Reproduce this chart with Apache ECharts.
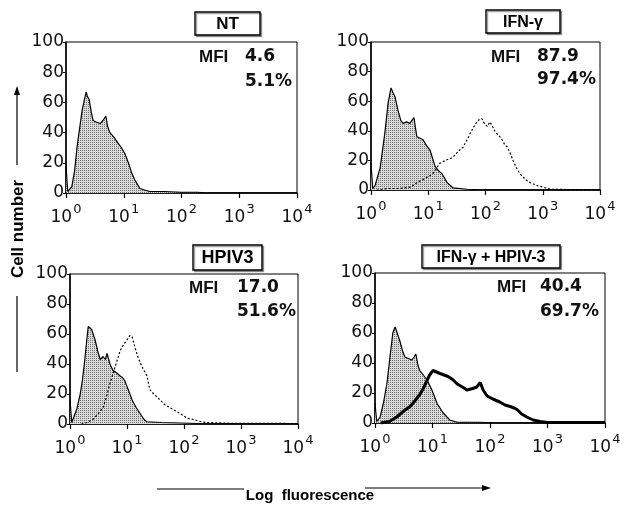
<!DOCTYPE html>
<html>
<head>
<meta charset="utf-8">
<script src="https://cdn.jsdelivr.net/npm/echarts@6/dist/echarts.min.js"></script>
<style>
  html, body { margin: 0; padding: 0; background: #fff; }
  #chart { width: 631px; height: 506px; }
</style>
</head>
<body>
<div id="chart"></div>
<script>
// x = log10(fluorescence), y = cell number
const decadeTicks = [0, 1, 2, 3, 4];
const countTicks = [0, 20, 40, 60, 80, 100];

const panelTitles = ['NT', 'IFN-\u03b3', 'HPIV3', 'IFN-\u03b3 + HPIV-3'];
const mfiValues = ['4.6', '87.9', '17.0', '40.4'];
const pctValues = ['5.1%', '97.4%', '51.6%', '69.7%'];

// shaded control histograms
const ntControl = [[0,18],[0.03,1],[0.1,4],[0.15,15],[0.19,30],[0.24,44],[0.28,55],[0.32,62],[0.35,67],[0.37,64],[0.4,62],[0.44,53],[0.47,48],[0.52,47],[0.59,46],[0.64,48],[0.69,51],[0.72,44],[0.76,40],[0.83,37],[0.9,33],[0.96,30],[1.02,26],[1.08,20],[1.14,13],[1.2,8],[1.28,3],[1.36,2],[1.45,1],[1.7,1],[2.0,0.5],[2.27,0.5],[2.5,0],[4,0]];
const ifnControl = [[0,18],[0.03,1],[0.07,3],[0.16,15],[0.24,38],[0.3,59],[0.35,69],[0.38,66],[0.42,63],[0.47,54],[0.52,47],[0.56,45],[0.62,46],[0.68,45],[0.75,49],[0.8,36],[0.86,35],[0.91,34],[0.97,30],[1.03,27],[1.12,16],[1.18,13],[1.24,11],[1.33,5],[1.43,1.5],[1.68,0.5],[2.0,0],[4,0]];
const hpivControl = [[0,16],[0.03,1],[0.05,2],[0.12,10],[0.18,20],[0.22,30],[0.26,43],[0.3,58],[0.32,65],[0.35,66],[0.38,63],[0.44,56],[0.49,48],[0.53,43],[0.58,45],[0.62,43],[0.65,47],[0.7,40],[0.75,36],[0.82,34],[0.88,32],[0.92,31],[0.96,29],[1.02,23],[1.09,16],[1.16,11],[1.23,7],[1.3,3],[1.35,1.5],[1.6,1],[2.1,0.5],[2.5,0],[4,0]];
const bothControl = [[0,13],[0.03,1],[0.09,4],[0.15,14],[0.21,27],[0.26,44],[0.31,60],[0.35,64],[0.37,63],[0.43,55],[0.48,48],[0.52,44],[0.58,43],[0.64,42],[0.68,44],[0.71,46],[0.75,38],[0.78,35],[0.84,32],[0.9,29],[0.99,22],[1.08,13],[1.18,7],[1.3,2],[1.43,0.5],[1.8,0.5],[2.2,0],[4,0]];

// stained histograms
const ifnStained = [[0.1,0],[0.3,1],[0.5,1],[0.7,2],[0.8,5],[0.91,7],[1.0,9],[1.08,11],[1.2,18],[1.3,20],[1.43,22],[1.52,26],[1.61,29],[1.68,34],[1.73,38],[1.8,43],[1.85,46],[1.9,48],[1.94,48],[1.98,45],[2.03,43],[2.08,46],[2.11,45],[2.16,40],[2.2,38],[2.25,36],[2.29,34],[2.33,31],[2.38,29],[2.43,25],[2.48,20],[2.54,15],[2.6,11],[2.7,7],[2.78,5],[2.9,3],[3.0,2],[3.13,0.5],[3.5,0.3],[4,0.3]];
const hpivStained = [[0.2,0],[0.3,1],[0.4,3],[0.5,7],[0.58,11],[0.64,18],[0.7,27],[0.75,33],[0.79,38],[0.84,44],[0.88,49],[0.94,53],[1.0,56],[1.05,59],[1.09,58],[1.12,54],[1.14,51],[1.18,46],[1.23,41],[1.28,37],[1.35,32],[1.4,23],[1.47,20],[1.58,16],[1.66,13],[1.75,11],[1.84,9],[1.93,7],[2.05,4],[2.16,3],[2.3,1.5],[2.4,1],[2.8,0.5],[3.2,0.5],[4,0.3]];
const bothStained = [[0.1,0],[0.25,1],[0.38,4],[0.5,8],[0.61,11],[0.7,15],[0.78,19],[0.84,23],[0.9,28],[0.95,32],[1.01,35],[1.07,34],[1.13,33],[1.2,32],[1.27,31],[1.35,29],[1.43,26],[1.52,24],[1.6,22],[1.7,23],[1.77,24],[1.83,27],[1.88,22],[1.95,18],[2.05,16],[2.17,14],[2.26,12],[2.35,11],[2.42,10],[2.47,9],[2.55,6],[2.64,4],[2.75,2],[2.87,1],[3.0,0.3],[4,0.3]];

const controls = [ntControl, ifnControl, hpivControl, bothControl];
const stained = [null, ifnStained, hpivStained, bothStained];

// panel boxes in px
const grids = [
  { left: 66, top: 42, width: 231, height: 151 },
  { left: 371, top: 42, width: 229, height: 148 },
  { left: 70, top: 274, width: 228, height: 150 },
  { left: 375, top: 273, width: 230, height: 150 }
];
const titleBoxes = [[195, 12, 65, 23, 17], [486, 10, 74, 23, 16], [193, 245, 69, 25, 18], [422, 245, 138, 23, 16]];
const mfiPos = [[199, 245, 57, 82], [491, 537, 57, 80], [189, 237, 288, 312], [497, 540, 287, 312]];

// stippled grey fill
const pc = document.createElement('canvas');
pc.width = 2; pc.height = 2;
const pctx = pc.getContext('2d');
pctx.fillStyle = '#dadada'; pctx.fillRect(0, 0, 2, 2);
pctx.fillStyle = '#6e6e6e'; pctx.fillRect(0, 0, 1, 1);

const tickFont = '"DejaVu Sans", sans-serif';

const xAxes = grids.map((g, i) => ({
  gridIndex: i, type: 'value', min: 0, max: 4, interval: 1,
  axisLine: { lineStyle: { color: '#000', width: 1.5 } },
  axisTick: { show: true, length: 5, lineStyle: { color: '#000', width: 1.2 } },
  splitLine: { show: false },
  axisLabel: {
    margin: 13,
    formatter: v => '{b|10}{s|' + v + '}',
    rich: {
      b: { fontSize: 17, fontFamily: tickFont, color: '#111', lineHeight: 20, verticalAlign: 'bottom' },
      s: { fontSize: 13, fontFamily: tickFont, color: '#111', lineHeight: 13, padding: [0, 0, 10, 1], verticalAlign: 'bottom' }
    }
  }
}));
const yAxes = grids.map((g, i) => ({
  gridIndex: i, type: 'value', min: 0, max: 100, interval: 20,
  axisLine: { show: true, lineStyle: { color: '#000', width: 1.5 } },
  axisTick: { show: true, length: 3, lineStyle: { color: '#000' } },
  splitLine: { show: false },
  axisLabel: { margin: 2, fontSize: 17, fontFamily: tickFont, color: '#111' }
}));

const series = [];
controls.forEach((d, i) => {
  series.push({
    type: 'line', xAxisIndex: i, yAxisIndex: i, data: d, showSymbol: false, z: 2,
    lineStyle: { color: '#000', width: 1.2 },
    areaStyle: { color: { image: pc, repeat: 'repeat' }, opacity: 1 }
  });
});
stained.forEach((d, i) => {
  if (!d) return;
  const bold = i === 3;
  series.push({
    type: 'line', xAxisIndex: i, yAxisIndex: i, data: d, showSymbol: false, z: 3,
    lineStyle: { color: '#000', width: bold ? 3 : 1.2, type: bold ? 'solid' : [2, 2] }
  });
});

const graphic = [];
titleBoxes.forEach((b, i) => {
  graphic.push({
    type: 'rect', shape: { x: b[0], y: b[1], width: b[2], height: b[3] },
    style: { fill: '#fff', stroke: '#000', lineWidth: 1.4, shadowColor: 'rgba(0,0,0,0.35)', shadowOffsetX: 1.5, shadowOffsetY: 1.5, shadowBlur: 0 }
  });
  graphic.push({
    type: 'text', x: b[0] + b[2] / 2, y: b[1] + b[3] / 2 + 1,
    style: { text: panelTitles[i], font: 'bold ' + b[4] + 'px "Liberation Sans", Arial, sans-serif', fill: '#000', textAlign: 'center', textVerticalAlign: 'middle' }
  });
});
mfiPos.forEach((p, i) => {
  graphic.push({ type: 'text', x: p[0], y: p[2], style: { text: 'MFI', font: 'bold 17px "Liberation Sans", Arial, sans-serif', fill: '#111', textVerticalAlign: 'middle' } });
  graphic.push({ type: 'text', x: p[1], y: p[2], style: { text: mfiValues[i], font: 'bold 17px "DejaVu Sans", sans-serif', fill: '#111', textVerticalAlign: 'middle' } });
  graphic.push({ type: 'text', x: p[1], y: p[3], style: { text: pctValues[i], font: 'bold 17px "DejaVu Sans", sans-serif', fill: '#111', textVerticalAlign: 'middle' } });
});
// axis names with arrows
graphic.push(
  { type: 'text', x: 18, y: 229, rotation: Math.PI / 2, style: { text: 'Cell number', font: 'bold 17px "Liberation Sans", Arial, sans-serif', fill: '#000', textAlign: 'center', textVerticalAlign: 'middle' } },
  { type: 'line', shape: { x1: 17, y1: 165, x2: 17, y2: 92 }, style: { stroke: '#000', lineWidth: 1.2 } },
  { type: 'polygon', shape: { points: [[17, 86], [14, 95], [20, 95]] }, style: { fill: '#000' } },
  { type: 'line', shape: { x1: 17, y1: 296, x2: 17, y2: 372 }, style: { stroke: '#000', lineWidth: 1.2 } },
  { type: 'text', x: 310, y: 496, style: { text: 'Log  fluorescence', font: 'bold 15px "Liberation Sans", Arial, sans-serif', fill: '#000', textAlign: 'center', textVerticalAlign: 'middle' } },
  { type: 'line', shape: { x1: 157, y1: 489, x2: 244, y2: 489 }, style: { stroke: '#000', lineWidth: 1.2 } },
  { type: 'line', shape: { x1: 365, y1: 488, x2: 484, y2: 488 }, style: { stroke: '#000', lineWidth: 1.2 } },
  { type: 'polygon', shape: { points: [[491, 488], [482, 485], [482, 491]] }, style: { fill: '#000' } }
);

const chart = echarts.init(document.getElementById('chart'), null, { renderer: 'canvas' });
chart.setOption({
  animation: false,
  backgroundColor: '#fff',
  grid: grids.map(g => Object.assign({ show: true, borderColor: '#000', borderWidth: 1, backgroundColor: 'transparent' }, g)),
  xAxis: xAxes,
  yAxis: yAxes,
  series: series,
  graphic: graphic
});
</script>
</body>
</html>
